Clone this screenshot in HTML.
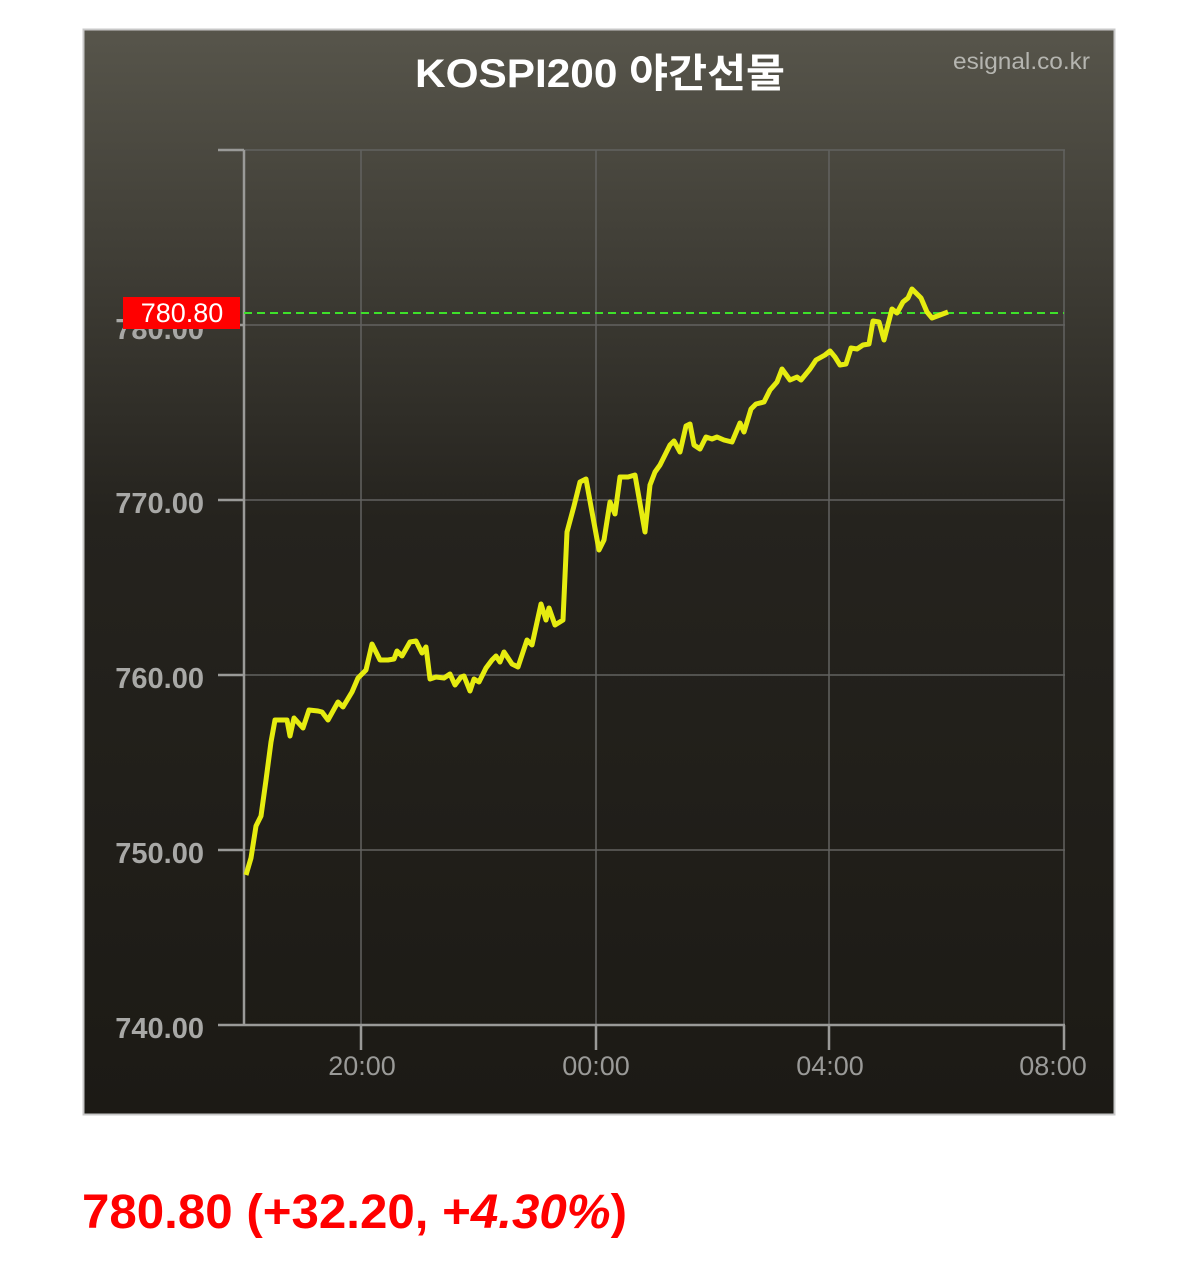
<!DOCTYPE html>
<html><head><meta charset="utf-8"><style>
body{margin:0;background:#fff;width:1200px;height:1263px;position:relative;font-family:"Liberation Sans","Noto Sans CJK KR",sans-serif;overflow:hidden}
</style></head><body>
<svg width="1200" height="1263" style="position:absolute;left:0;top:0">
<defs><linearGradient id="g" x1="0" y1="0" x2="0" y2="1">
<stop offset="0" stop-color="#57554b"/><stop offset="0.45" stop-color="#25231e"/><stop offset="1" stop-color="#1c1a15"/></linearGradient></defs>
<rect x="83.5" y="29.5" width="1031" height="1085" fill="url(#g)" stroke="#c8c8c8" stroke-width="2"/>
<text x="415" y="87" fill="#fff" font-size="40" font-weight="bold" textLength="370" lengthAdjust="spacingAndGlyphs" font-family="Liberation Sans,Noto Sans CJK KR,sans-serif">KOSPI200 야간선물</text>
<text x="953" y="69" fill="#b5b5b0" font-size="23" textLength="137" lengthAdjust="spacingAndGlyphs">esignal.co.kr</text>
<g stroke="#626260" stroke-width="1.5">
<line x1="244" y1="150" x2="1065" y2="150"/><line x1="244" y1="325" x2="1065" y2="325"/><line x1="244" y1="500" x2="1065" y2="500"/><line x1="244" y1="675" x2="1065" y2="675"/><line x1="244" y1="850" x2="1065" y2="850"/>
<line x1="361" y1="150" x2="361" y2="1025"/><line x1="596" y1="150" x2="596" y2="1025"/><line x1="829" y1="150" x2="829" y2="1025"/><line x1="1064" y1="150" x2="1064" y2="1025"/>
</g>
<g stroke="#9a9a98" stroke-width="2.5">
<line x1="244" y1="150" x2="244" y2="1025"/><line x1="218" y1="1025" x2="1065" y2="1025"/>
<line x1="218" y1="150" x2="244" y2="150"/><line x1="218" y1="325" x2="244" y2="325"/><line x1="218" y1="500" x2="244" y2="500"/><line x1="218" y1="675" x2="244" y2="675"/><line x1="218" y1="850" x2="244" y2="850"/>
<line x1="361" y1="1025" x2="361" y2="1050"/><line x1="596" y1="1025" x2="596" y2="1050"/><line x1="829" y1="1025" x2="829" y2="1050"/><line x1="1064" y1="1025" x2="1064" y2="1050"/>
</g>
<g fill="#a8a8a6" font-size="29" font-weight="bold" text-anchor="end">
<text x="204" y="339">780.00</text><text x="204" y="513">770.00</text><text x="204" y="688">760.00</text><text x="204" y="863">750.00</text><text x="204" y="1038">740.00</text>
</g>
<g fill="#9a9a98" font-size="27" text-anchor="middle">
<text x="362" y="1075">20:00</text><text x="596" y="1075">00:00</text><text x="830" y="1075">04:00</text><text x="1053" y="1075">08:00</text>
</g>
<line x1="244" y1="313" x2="1064" y2="313" stroke="#3ee02a" stroke-width="2" stroke-dasharray="8,5"/>
<rect x="123" y="297" width="117" height="32" fill="#f00"/>
<text x="182" y="322" text-anchor="middle" fill="#fff" font-size="27">780.80</text>
<polyline fill="none" stroke="#e6ec10" stroke-width="5" stroke-linejoin="round" points="246,875 251,858 256,826 261,816 266,780 271,742 275,720 280,720 287,720 290,736 294,718 303,728 309,710 318,711 322,712 328,720 338,702 343,707 352,692 358,678 366,670 372,644 380,660 388,660 394,659 397,651 402,656 410,642 416,641 422,653 426,647 430,679 436,677 444,678 450,674 455,685 461,677 464,676 470,691 474,679 479,682 486,668 492,660 496,656 500,662 504,652 512,664 518,667 527,640 532,645 541,604 546,620 549,608 555,625 563,620 567,532 574,506 580,482 586,479 592,512 599,550 604,540 610,502 615,514 620,477 628,477 635,475 645,532 650,485 655,472 660,465 670,445 674,441 680,452 686,426 690,424 694,445 700,449 706,437 712,439 717,437 724,440 732,442 740,423 744,432 751,409 756,404 764,402 770,390 777,382 782,369 790,380 797,377 801,380 810,369 816,360 825,355 830,351 835,357 840,365 846,364 851,348 857,349 863,345 869,344 873,321 879,322 884,340 892,309 897,313 903,302 908,298 912,289 921,298 927,312 932,318 940,315 948,312"/>
<text x="82" y="1228" fill="#f00" font-size="48" font-weight="bold" textLength="545" lengthAdjust="spacingAndGlyphs">780.80 (+32.20, +<tspan font-style="italic">4.30%</tspan>)</text>
</svg>
</body></html>
